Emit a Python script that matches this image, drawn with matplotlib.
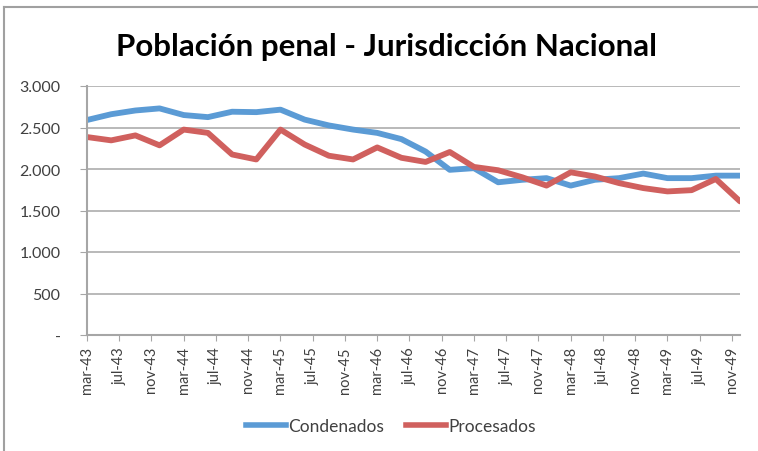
import matplotlib
matplotlib.use("Agg")
import matplotlib.pyplot as plt
from matplotlib.lines import Line2D
from matplotlib.ticker import FuncFormatter

# Quarterly data, months counted from mar-43
months = list(range(0, 84, 3))
condenados = [2590, 2660, 2705, 2730, 2650, 2625, 2690, 2685, 2715, 2595,
              2525, 2475, 2435, 2360, 2210, 1990, 2010, 1840, 1870, 1890,
              1800, 1870, 1890, 1945, 1890, 1890, 1920, 1920]
procesados = [2385, 2345, 2405, 2285, 2475, 2435, 2175, 2115, 2475, 2295,
              2160, 2115, 2260, 2135, 2085, 2205, 2025, 1985, 1900, 1800,
              1960, 1910, 1830, 1770, 1730, 1745, 1880, 1610]

tick_months = list(range(0, 84, 4))
tick_labels = []
for m in tick_months:
    yr = 43 + (m + 2) // 12
    mon = ["mar", "jul", "nov"][(m // 4) % 3]
    tick_labels.append(f"{mon}-{yr}")

plt.rcParams["font.family"] = ["Lato", "DejaVu Sans"]

W, H = 758, 452
fig = plt.figure(figsize=(W / 100, H / 100), dpi=100)
ax = fig.add_axes([87 / W, 1 - 336 / H, 653 / W, 249 / H])

blue = "#5b9bd5"
red = "#d0605e"
ax.plot(months, condenados, color=blue, lw=4.2, solid_capstyle="round", solid_joinstyle="round")
ax.plot(months, procesados, color=red, lw=4.2, solid_capstyle="round", solid_joinstyle="round")

ax.set_xlim(0, 81)
ax.set_ylim(0, 3000)
ax.set_yticks(range(0, 3001, 500))
ax.yaxis.set_major_formatter(FuncFormatter(lambda v, p: "-" if v == 0 else f"{int(v):,}".replace(",", ".")))
ax.set_xticks(tick_months)
ax.set_xticklabels(tick_labels, rotation=90, fontsize=10.5, color="#404040")
ax.tick_params(axis="y", labelsize=11.5, colors="#404040", length=5, color="#a6a6a6", pad=14)
ax.tick_params(axis="x", length=4, color="#a6a6a6", pad=4)

ax.grid(axis="y", color="#a6a6a6", lw=1.1)
ax.set_axisbelow(True)
for s in ["top", "right"]:
    ax.spines[s].set_visible(False)
ax.spines["left"].set_color("#a6a6a6")
ax.spines["left"].set_linewidth(1.5)
ax.spines["bottom"].set_color("#a6a6a6")
ax.spines["bottom"].set_linewidth(1.5)

fig.text(386 / W, 1 - 47 / H, "Población penal - Jurisdicción Nacional",
         ha="center", va="center", fontsize=22.5, fontweight="bold", color="black")

handles = [Line2D([], [], color=blue, lw=4), Line2D([], [], color=red, lw=4)]
fig.legend(handles, ["Condenados", "Procesados"], loc="center", ncol=2,
           bbox_to_anchor=(391 / W, 1 - 427 / H), frameon=False, fontsize=12.5,
           handlelength=2.3, handletextpad=0.1, columnspacing=1.3, labelcolor="#404040")

# chart frame (left and top edges visible)
fig.add_artist(Line2D([4 / W, 4 / W], [0, 1 - 8 / H], color="#a0a0a0", lw=1.5, transform=fig.transFigure))
fig.add_artist(Line2D([4 / W, 1], [1 - 8 / H, 1 - 8 / H], color="#a0a0a0", lw=1.5, transform=fig.transFigure))

fig.savefig("out.png", dpi=100)
